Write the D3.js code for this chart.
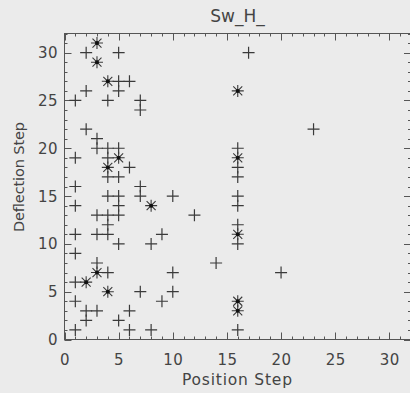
<!DOCTYPE html>
<html>
<head>
<meta charset="utf-8">
<script src="https://cdn.jsdelivr.net/npm/d3@7"></script>
<style>
  body { margin: 0; background: #ebebeb; }
  svg { display: block; }
  text { font-family: "DejaVu Sans", sans-serif; fill: #444; }
</style>
</head>
<body>
<script>
var width = 410;
var height = 393;

// plain "+" markers, [position, deflection]
var plusPoints = [
  [2,30],[5,30],[17,30],
  [5,27],[6,27],[2,26],[5,26],
  [1,25],[4,25],[7,25],[7,24],
  [2,22],[23,22],[3,21],
  [3,20],[4,20],[5,20],[16,20],
  [1,19],[4,19],
  [6,18],[16,18],
  [4,17],[5,17],[16,17],
  [1,16],[7,16],
  [4,15],[5,15],[7,15],[10,15],[16,15],
  [1,14],[5,14],[16,14],
  [3,13],[4,13],[5,13],[12,13],
  [4,12],[16,12],
  [1,11],[3,11],[4,11],[9,11],
  [5,10],[8,10],[16,10],
  [1,9],
  [3,8],[14,8],
  [4,7],[10,7],[20,7],
  [1,6],
  [7,5],[10,5],
  [1,4],[9,4],
  [2,3],[3,3],[6,3],
  [2,2],[5,2],
  [1,1],[6,1],[8,1],[16,1]
];

// asterisk markers (repeated hits)
var starPoints = [
  [3,31],[3,29],[4,27],[16,26],[5,19],[16,19],[4,18],
  [8,14],[16,11],[3,7],[2,6],[4,5],[16,4],[16,3]
];

var xTicks = [0,5,10,15,20,25,30];
var yTicks = [0,5,10,15,20,25,30];
var minorTicks = d3.range(0, 33);

var x = d3.scaleLinear().domain([0, 32]).range([64.5, 411]);
var y = d3.scaleLinear().domain([0, 32]).range([339.5, 33.5]);

var svg = d3.select("body").append("svg")
    .attr("width", width)
    .attr("height", height);

var ink = "#3a3a3a";

// frame
svg.append("rect")
    .attr("x", x(0)).attr("y", y(32))
    .attr("width", x(32) - x(0)).attr("height", y(0) - y(32))
    .attr("fill", "none").attr("stroke", "#555").attr("stroke-width", 1);

// ticks on all four sides, pointing inward
function tickLen(v) { return v % 5 == 0 ? 7 : 3; }

var g = svg.append("g").attr("stroke", "#555").attr("stroke-width", 1);
minorTicks.forEach(function(v) {
  var L = tickLen(v);
  var xv = Math.round(x(v)) + 0.5, yv = Math.round(y(v)) + 0.5;
  g.append("line").attr("x1", xv).attr("x2", xv).attr("y1", y(0)).attr("y2", y(0) - L);
  g.append("line").attr("x1", xv).attr("x2", xv).attr("y1", y(32)).attr("y2", y(32) + L);
  g.append("line").attr("y1", yv).attr("y2", yv).attr("x1", x(0)).attr("x2", x(0) + L);
  g.append("line").attr("y1", yv).attr("y2", yv).attr("x1", x(32)).attr("x2", x(32) - L);
});

svg.selectAll(".xlab")
  .data(xTicks)
  .enter().append("text")
    .attr("class", "xlab")
    .attr("x", function(d) { return x(d) + 0.5; })
    .attr("y", 365)
    .attr("text-anchor", "middle")
    .attr("font-size", 15)
    .attr("letter-spacing", 0.5)
    .text(function(d) { return d; });

svg.selectAll(".ylab")
  .data(yTicks)
  .enter().append("text")
    .attr("class", "ylab")
    .attr("x", 58)
    .attr("y", function(d) { return y(d) + 5.5; })
    .attr("text-anchor", "end")
    .attr("font-size", 15)
    .attr("letter-spacing", 0.5)
    .text(function(d) { return d; });

svg.append("text")
    .attr("x", 237.5).attr("y", 22)
    .attr("text-anchor", "middle")
    .attr("font-size", 17)
    .text("Sw_H_");

svg.append("text")
    .attr("x", 182).attr("y", 385)
    .attr("font-size", 15.5)
    .attr("textLength", 110).attr("lengthAdjust", "spacing")
    .text("Position Step");

svg.append("text")
    .attr("transform", "translate(24,232) rotate(-90)")
    .attr("font-size", 14.5)
    .attr("textLength", 110).attr("lengthAdjust", "spacing")
    .text("Deflection Step");

// markers
var s = 6;
svg.selectAll(".plus")
  .data(plusPoints)
  .enter().append("path")
    .attr("class", "plus")
    .attr("transform", function(d) { return "translate(" + x(d[0]) + "," + y(d[1]) + ")"; })
    .attr("d", "M" + (-s) + ",0H" + s + "M0," + (-s) + "V" + s)
    .attr("stroke", ink).attr("stroke-width", 1.2).attr("fill", "none");

var k = 4.5;
var stars = svg.selectAll(".star")
  .data(starPoints)
  .enter().append("g")
    .attr("class", "star")
    .attr("transform", function(d) { return "translate(" + x(d[0]) + "," + y(d[1]) + ")"; });
stars.append("path")
    .attr("d", "M" + (-s) + ",0H" + s + "M0," + (-s) + "V" + s +
               "M" + (-k) + "," + (-k) + "L" + k + "," + k +
               "M" + (-k) + "," + k + "L" + k + "," + (-k))
    .attr("stroke", ink).attr("stroke-width", 1.1).attr("fill", "none");
stars.append("circle")
    .attr("r", 2)
    .attr("fill", "#111");
</script>
</body>
</html>
